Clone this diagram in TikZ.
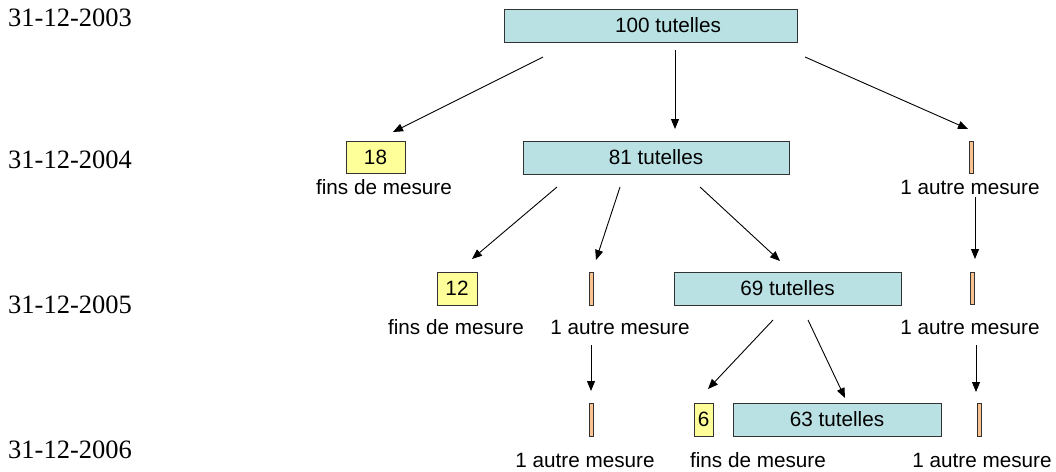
\documentclass[tikz,border=0pt]{standalone}
\usepackage{fontspec}
\setmainfont{Liberation Sans}
\newfontfamily\datefont{Liberation Serif}
\usetikzlibrary{arrows.meta}
\definecolor{tealfill}{HTML}{B9E0E3}
\definecolor{yelfill}{HTML}{FFFF99}
\definecolor{orfill}{HTML}{FAC28F}
\definecolor{edgegray}{HTML}{333333}
\tikzset{
  boxbase/.style={draw=edgegray, line width=1pt, inner sep=0pt, font=\fontsize{20.7}{24}\selectfont},
  tut/.style={boxbase, fill=tealfill},
  fin/.style={boxbase, fill=yelfill},
  bar/.style={boxbase, fill=orfill, minimum width=4pt},
  lbl/.style={anchor=base, inner sep=0pt, font=\fontsize{20.7}{24}\selectfont},
  datelbl/.style={anchor=base west, inner sep=0pt, font=\datefont\fontsize{26.5}{30}\selectfont},
  arr/.style={line width=0.9pt, -{Triangle[length=10pt,width=8pt]}}
}
\begin{document}
\begin{tikzpicture}[x=1pt,y=-1pt]
\useasboundingbox (0,0) rectangle (1056,471);
% dates
\node[datelbl] (d3) at (8,26) {31-12-2003};
\node[datelbl] (d4) at (8,168) {31-12-2004};
\node[datelbl] (d5) at (8,313) {31-12-2005};
\node[datelbl] (d6) at (8,458) {31-12-2006};
% level 2003
\node[tut, minimum width=293pt, minimum height=33pt] (b100) at (650.5,25.5) {};
\node[lbl, anchor=center] (t100) at (668,25.5) {100 tutelles};
% level 2004
\node[fin, minimum width=59pt, minimum height=32pt] (f18) at (375.5,157) {18};
\node[tut, minimum width=266pt, minimum height=33pt] (b81) at (656,157.5) {81 tutelles};
\node[bar, minimum height=32pt] (a04) at (971,157) {};
\node[lbl] (l18) at (384,194) {fins de mesure};
\node[lbl] (la04) at (970,194) {1 autre mesure};
% level 2005
\node[fin, minimum width=40pt, minimum height=33pt] (f12) at (457,288.5) {12};
\node[bar, minimum height=33pt] (a05m) at (591,288.5) {};
\node[tut, minimum width=227pt, minimum height=33pt] (b69) at (787.5,288.5) {69 tutelles};
\node[bar, minimum height=32pt] (a05r) at (972,288) {};
\node[lbl] (l12) at (456,334) {fins de mesure};
\node[lbl] (la05m) at (620,334) {1 autre mesure};
\node[lbl] (la05r) at (970,334) {1 autre mesure};
% level 2006
\node[bar, minimum height=33pt] (a06l) at (591,419.5) {};
\node[fin, minimum width=19pt, minimum height=33pt] (f6) at (703.5,419.5) {6};
\node[tut, minimum width=208pt, minimum height=33pt] (b63) at (837,419.5) {63 tutelles};
\node[bar, minimum height=33pt] (a06r) at (979,419.5) {};
\node[lbl] (la06l) at (585,467) {1 autre mesure};
\node[lbl] (l6) at (758,467) {fins de mesure};
\node[lbl] (la06r) at (982,467) {1 autre mesure};
% arrow endpoints
\coordinate (s1) at (543,57);  \coordinate (t1) at (393,132);
\coordinate (s2) at (675,50);  \coordinate (t2) at (675,129);
\coordinate (s3) at (805,57);  \coordinate (t3) at (968,129);
\coordinate (s4) at (557,187); \coordinate (t4) at (472,259);
\coordinate (s5) at (620,187); \coordinate (t5) at (596,260);
\coordinate (s6) at (700,187); \coordinate (t6) at (780,261);
\coordinate (s7) at (975,197); \coordinate (t7) at (975,259);
\coordinate (s8) at (591,345); \coordinate (t8) at (591,391);
\coordinate (s9) at (773,320); \coordinate (t9) at (708,389);
\coordinate (s10) at (808,320); \coordinate (t10) at (845,398);
\coordinate (s11) at (976,345); \coordinate (t11) at (976,392);
\foreach \i in {1,...,11} \draw[arr] (s\i) -- (t\i);
\end{tikzpicture}
\end{document}
